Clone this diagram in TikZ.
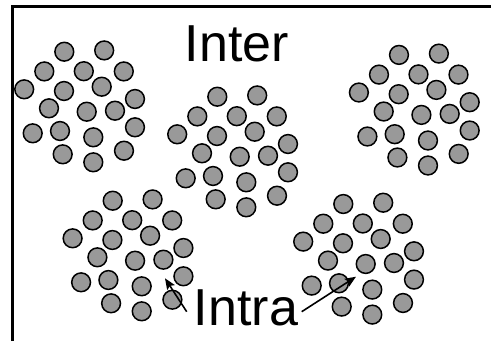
\documentclass[tikz,border=0pt]{standalone}
\usepackage{fontspec}
\setmainfont{Liberation Sans}
\usetikzlibrary{arrows.meta}
\begin{document}
\begin{tikzpicture}[x=1pt,y=-1pt,
  ball/.style={circle,draw=black,fill=black!40,line width=1.5pt,minimum size=18.8pt,inner sep=0pt},
  lbl/.style={font=\fontsize{52}{60}\selectfont,inner sep=0pt,anchor=base},
  arr/.style={-{Stealth[length=11pt,width=9pt,inset=2pt]},line width=1.6pt},
  frame/.style={line width=3.4pt}]
\useasboundingbox (0,0) rectangle (491,341);
\coordinate (tl) at (12.5,6.7);
\coordinate (tr) at (491,6.7);
\coordinate (bl) at (12.5,341);
\draw[frame] (bl) -- (tl) -- (tr);
\foreach \cx/\cy [count=\c] in {0/0,153/45,334.7/3.2,48.4/149,279/152.3}{
  \foreach \px/\py [count=\k] in {64.3/51.7,104.2/50.4,44.3/71.4,83.8/71.2,123.8/71.4,24.2/89.3,64/91,101.7/86.7,135/99,49/108.3,86.7/111.7,115/110.7,32.7/133.3,60/131,93.3/137.3,135/127.3,62.7/154.3,93.3/162.3,124/150.7}{
    \node[ball] (b\c-\k) at (\cx+\px,\cy+\py) {};
  }
}
\node[lbl] (inter) at (237,61.7) {Inter};
\node[lbl] (intra) at (246,325) {Intra};
\coordinate (a1s) at (186.7,311.7);
\coordinate (a1e) at (165,278.3);
\coordinate (a2s) at (301.7,311.7);
\coordinate (a2e) at (356,276.7);
\draw[arr] (a1s) -- (a1e);
\draw[arr] (a2s) -- (a2e);
\end{tikzpicture}
\end{document}
